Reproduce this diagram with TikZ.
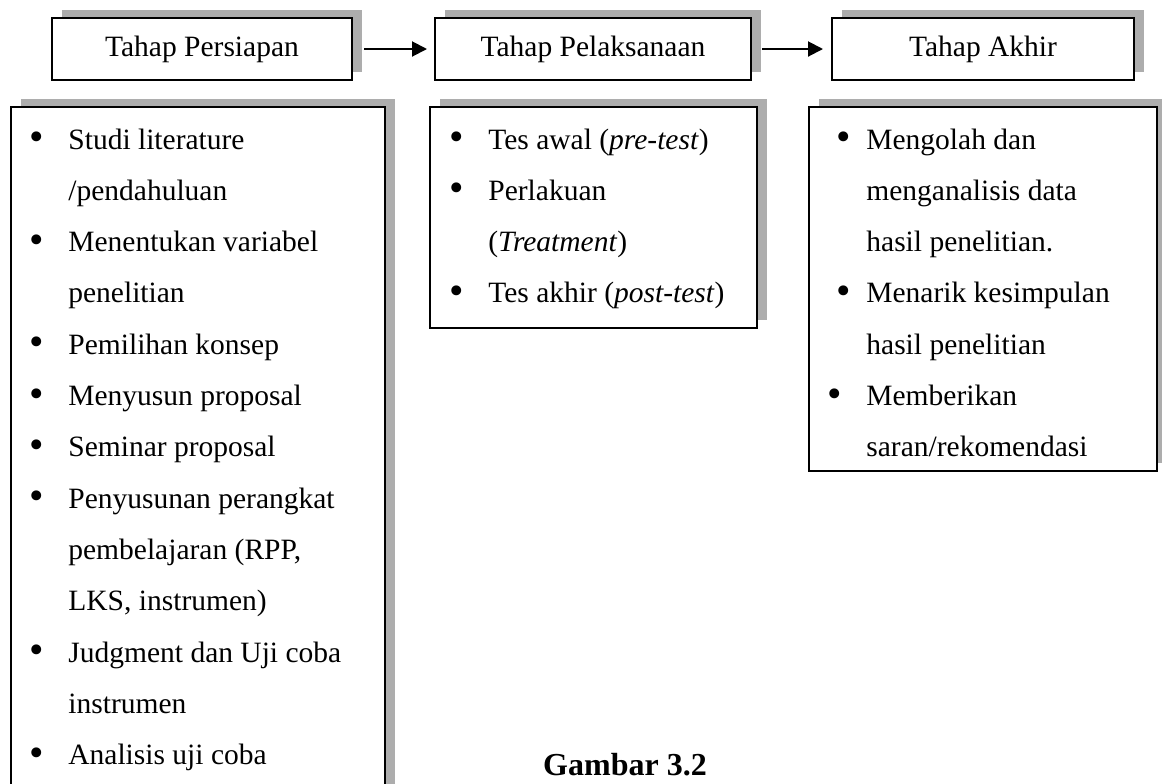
\documentclass[tikz,border=0pt]{standalone}
\usepackage{fontspec}
\setmainfont{Liberation Serif}
\usetikzlibrary{arrows.meta,shadows}

% bullet hung to the left of the text
\newcommand{\bul}[1][12.4pt]{\llap{\raisebox{-0.8pt}{\scalebox{1.4}{\textbullet}}\hspace{#1}}}

\begin{document}
\begin{tikzpicture}[x=0.5pt, y=-0.5pt,
    every node/.style={font=\fontsize{14.75}{25.65}\selectfont},
    boxshade/.style={drop shadow={shadow xshift=5pt, shadow yshift=4pt, fill=black!32, opacity=1}},
    stage/.style={draw, line width=1pt, fill=white, minimum height=31pt, inner sep=0pt, boxshade},
    listbox/.style={draw, line width=1pt, fill=white, anchor=north west, inner sep=0pt, boxshade},
    item/.style={anchor=base west, inner sep=0pt},
    flow/.style={-{Triangle[length=7.5pt,width=7.5pt]}, line width=1pt}]

    % Define variables
    \def\lh{51.3}   % distance between two lines
    \def\ytop{149}  % baseline of the first line

    % Page frame
    \useasboundingbox (0,0) rectangle (1162,783);
    \clip (0,0) rectangle (1162,783);

    % Draw the three stages
    \node[stage, minimum width=150pt] (persiapan) at (202,49) {Tahap Persiapan};
    \node[stage, minimum width=158pt] (pelaksanaan) at (593,49) {Tahap Pelaksanaan};
    \node[stage, minimum width=151pt] (akhir) at (983,49) {Tahap Akhir};

    % Draw the arrows between the stages
    \draw[flow, shorten <=5.5pt, shorten >=3.5pt] (persiapan) -- (pelaksanaan);
    \draw[flow, shorten <=5pt, shorten >=4pt] (pelaksanaan) -- (akhir);

    % Draw the boxes of activities
    \node[listbox, minimum width=187pt, minimum height=420pt] (persiapanlist) at (9.6,106) {};
    \node[listbox, minimum width=163.5pt, minimum height=110.5pt] (pelaksanaanlist) at (429,106) {};
    \node[listbox, minimum width=174pt, minimum height=182pt] (akhirlist) at (808,106) {};

    % Activities of Tahap Persiapan
    \foreach \k/\txt in {0/{\bul Studi literature}, 1/{/pendahuluan},
        2/{\bul Menentukan variabel}, 3/{penelitian}, 4/{\bul Pemilihan konsep},
        5/{\bul Menyusun proposal}, 6/{\bul Seminar proposal},
        7/{\bul Penyusunan perangkat}, 8/{pembelajaran (RPP,}, 9/{LKS, instrumen)},
        10/{\bul Judgment dan Uji coba}, 11/{instrumen}, 12/{\bul Analisis uji coba}}
        \node[item] (persiapan\k) at (68,\ytop+\k*\lh) {\txt};

    % Activities of Tahap Pelaksanaan
    \foreach \k/\txt in {0/{\bul Tes awal (\textit{pre-test})}, 1/{\bul Perlakuan},
        2/{(\textit{Treatment})}, 3/{\bul Tes akhir (\textit{post-test})}}
        \node[item] (pelaksanaan\k) at (488,\ytop+\k*\lh) {\txt};

    % Activities of Tahap Akhir
    \foreach \k/\txt in {0/{\bul[7.9pt]Mengolah dan}, 1/{menganalisis data},
        2/{hasil penelitian.}, 3/{\bul[7.9pt]Menarik kesimpulan}, 4/{hasil penelitian},
        5/{\bul Memberikan}, 6/{saran/rekomendasi}}
        \node[item] (akhir\k) at (866,\ytop+\k*\lh) {\txt};

    % Caption
    \node[font=\fontsize{16}{19}\selectfont\bfseries, anchor=base] (caption) at (625,775) {Gambar 3.2};
\end{tikzpicture}
\end{document}
